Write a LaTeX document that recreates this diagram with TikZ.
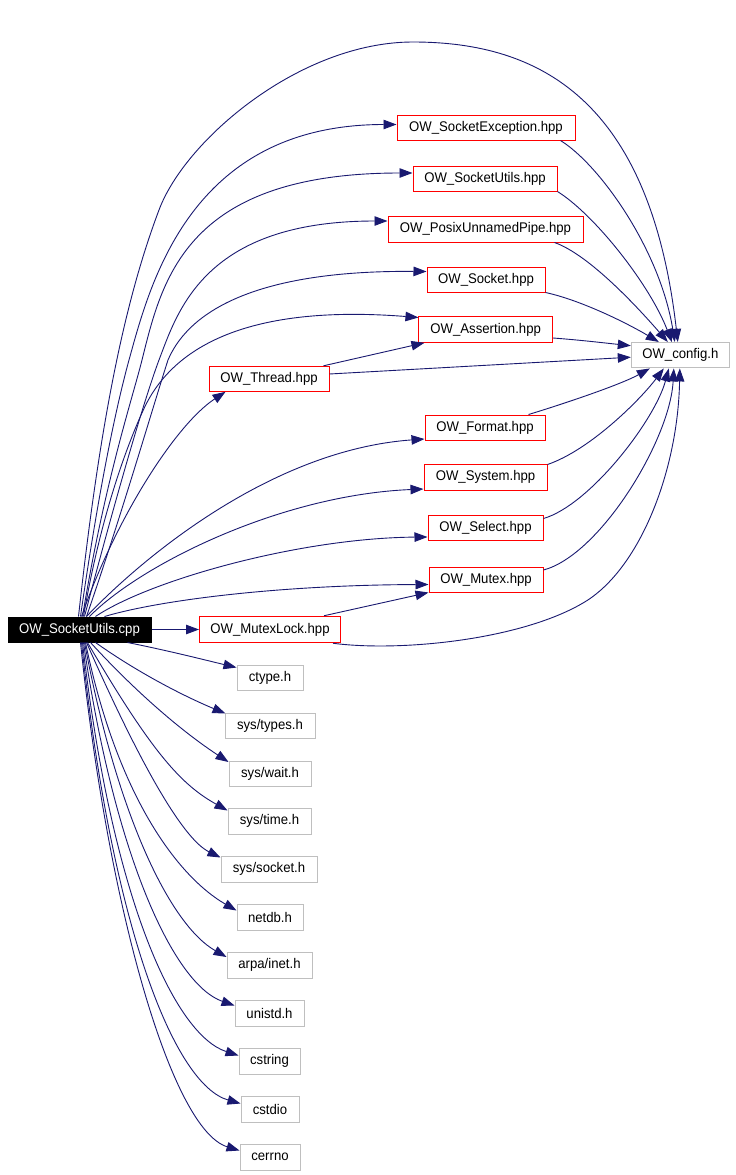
\documentclass[tikz,border=0pt]{standalone}
\usepackage{fontspec}
\newfontfamily\dfont[FakeStretch=0.94]{Liberation Sans}
\usetikzlibrary{arrows.meta,calc}
\definecolor{edgeblue}{RGB}{25,25,112}
\definecolor{boxgray}{RGB}{191,191,191}
\begin{document}
\begin{tikzpicture}[x=1pt,y=-1pt,
  box/.style={rectangle,draw,line width=1pt,inner sep=0pt,minimum height=25pt,font=\dfont\fontsize{14}{16}\selectfont,anchor=center},
  redbox/.style={box,draw=red},
  graybox/.style={box,draw=boxgray},
  rootbox/.style={box,draw=black,fill=black,text=white},
  edge/.style={draw=edgeblue,line width=0.9pt,-{Triangle[length=13pt,width=9.5pt]}}
]
\fill[white] (0,0) rectangle (736,1175);
\useasboundingbox (0,0) rectangle (736,1175);

% nodes
\node[rootbox,minimum width=143pt] (cpp) at (79.5,629.5) {OW\_SocketUtils.cpp};
\node[redbox,minimum width=141pt,minimum height=26.5pt] (mlock) at (270,629.5) {OW\_MutexLock.hpp};
\node[graybox,minimum width=66pt] (ctype) at (270,677.5) {ctype.h};
\node[graybox,minimum width=90pt] (types) at (270,725.5) {sys/types.h};
\node[graybox,minimum width=82pt] (wait) at (270,773.5) {sys/wait.h};
\node[graybox,minimum width=83pt,minimum height=26pt] (time) at (269.5,821) {sys/time.h};
\node[graybox,minimum width=96pt,minimum height=26pt] (socket) at (269,869) {sys/socket.h};
\node[graybox,minimum width=66pt,minimum height=26pt] (netdb) at (270,917) {netdb.h};
\node[graybox,minimum width=85pt,minimum height=26pt] (inet) at (269.5,965) {arpa/inet.h};
\node[graybox,minimum width=69pt,minimum height=26pt] (unistd) at (269.5,1013) {unistd.h};
\node[graybox,minimum width=61pt,minimum height=26pt] (cstring) at (269.5,1061) {cstring};
\node[graybox,minimum width=58pt,minimum height=26pt] (cstdio) at (270,1109) {cstdio};
\node[graybox,minimum width=60pt,minimum height=26pt] (cerrno) at (270,1157) {cerrno};
\node[redbox,minimum width=120pt] (thread) at (269,378.8) {OW\_Thread.hpp};
\node[redbox,minimum width=178pt] (sexc) at (486,127.5) {OW\_SocketException.hpp};
\node[redbox,minimum width=144pt] (sutil) at (485,178.5) {OW\_SocketUtils.hpp};
\node[redbox,minimum width=195pt,minimum height=26pt] (pipe) at (485.5,229) {OW\_PosixUnnamedPipe.hpp};
\node[redbox,minimum width=118pt] (sock) at (486,279.5) {OW\_Socket.hpp};
\node[redbox,minimum width=133.5pt,minimum height=25.8pt] (assert) at (485.7,329.4) {OW\_Assertion.hpp};
\node[graybox,minimum width=98pt,minimum height=25.5pt] (config) at (680.3,355.2) {OW\_config.h};
\node[redbox,minimum width=120pt] (format) at (485,427.5) {OW\_Format.hpp};
\node[redbox,minimum width=123pt,minimum height=26pt] (system) at (485.5,477) {OW\_System.hpp};
\node[redbox,minimum width=115pt] (select) at (485.5,527.5) {OW\_Select.hpp};
\node[redbox,minimum width=114pt] (mutex) at (486,579.5) {OW\_Mutex.hpp};

% edges from cpp upward
\draw[edge] ($(cpp.north west)+(71,0)$) .. controls (100,420) and (125,300) .. (159,210)
  .. controls (185,140) and (300,42) .. (413,42)
  .. controls (540,42) and (650,100) .. ($(config.north west)+(47,0)$);
\draw[edge] ($(cpp.north west)+(73,0)$) .. controls (100,480) and (118,400) .. (129,360)
  .. controls (150,284) and (190,124.5) .. ($(sexc.west)+(0,-3)$);
\draw[edge] ($(cpp.north west)+(75,0)$) .. controls (105,480) and (132,400) .. (142,360)
  .. controls (162,280) and (185,173) .. ($(sutil.west)+(0,-5.5)$);
\draw[edge] ($(cpp.north west)+(77,0)$) .. controls (115,500) and (144,400) .. (159,360)
  .. controls (178,310) and (205,221) .. ($(pipe.west)+(0,-8)$);
\draw[edge] ($(cpp.north west)+(79,0)$) .. controls (120,520) and (155,400) .. (168,360)
  .. controls (185,320) and (240,270) .. ($(sock.west)+(0,-8)$);
\draw[edge] ($(cpp.north west)+(76,0)$) .. controls (100,520) and (125,450) .. (143.3,410)
  .. controls (175,340) and (260,305) .. ($(assert.north west)+(0,1.5)$);
\draw[edge] ($(cpp.north west)+(74,0)$) .. controls (115,520) and (175,425) .. ($(thread.south west)+(17,0)$);
\draw[edge] ($(cpp.north west)+(79,0)$) .. controls (140,560) and (270,450) .. ($(format.south west)+(0,-1.5)$);
\draw[edge] ($(cpp.north west)+(82,0)$) .. controls (140,565) and (280,495) .. ($(system.south west)+(0,-1.5)$);
\draw[edge] ($(cpp.north west)+(88,0)$) .. controls (150,580) and (300,538) .. ($(select.south west)+(0,-3.5)$);
\draw[edge] ($(cpp.north west)+(97,0)$) .. controls (160,600) and (280,585) .. ($(mutex.west)+(0,5)$);
\draw[edge] (cpp.east) -- (mlock.west);

% edges from cpp downward
\draw[edge] ($(cpp.south west)+(120,0)$) .. controls (170,651) and (205,660) .. ($(ctype.north west)+(0,3)$);
\draw[edge] ($(cpp.south west)+(88,0)$) .. controls (137,672) and (183,695.8) .. ($(types.north west)+(1,1)$);
\draw[edge] ($(cpp.south west)+(83,0)$) .. controls (137,693.3) and (183,732.2) .. ($(wait.north west)+(0,1.5)$);
\draw[edge] ($(cpp.south west)+(80,0)$) .. controls (153,754.5) and (181.7,784.9) .. ($(time.north west)+(0,3)$);
\draw[edge] ($(cpp.south west)+(79,0)$) .. controls (145,775) and (185,840) .. ($(socket.north west)+(0,2)$);
\draw[edge] ($(cpp.south west)+(78,0)$) .. controls (118,800) and (180,878) .. ($(netdb.north west)+(0,7)$);
\draw[edge] ($(cpp.south west)+(77,0)$) .. controls (117,815) and (170,925) .. ($(inet.north west)+(0,5.5)$);
\draw[edge] ($(cpp.south west)+(76,0)$) .. controls (115,860) and (175,985) .. ($(unistd.north west)+(0,6)$);
\draw[edge] ($(cpp.south west)+(75,0)$) .. controls (112,900) and (175,1035) .. ($(cstring.north west)+(0,8)$);
\draw[edge] ($(cpp.south west)+(74,0)$) .. controls (112,930) and (175,1085) .. ($(cstdio.north west)+(0,8)$);
\draw[edge] ($(cpp.south west)+(73,0)$) .. controls (108,910) and (172,1130) .. ($(cerrno.north west)+(0,7)$);

% edges into OW_config.h
\draw[edge] ($(sexc.south east)+(-15,0)$) .. controls (600,165) and (660,250) .. ($(config.north west)+(44,0)$);
\draw[edge] (sutil.south east) .. controls (595,215) and (650,285) .. ($(config.north west)+(41,0)$);
\draw[edge] ($(pipe.south east)+(-29,0)$) .. controls (590,255) and (640,310) .. ($(config.north west)+(37,0)$);
\draw[edge] (sock.south east) .. controls (580,300) and (625,322) .. ($(config.north west)+(28,0)$);
\draw[edge] ($(assert.east)+(0,8.6)$) .. controls (580,340) and (605,343) .. ($(config.west)+(0,-9.5)$);
\draw[edge] ($(thread.east)+(0,-4.8)$) -- ($(config.west)+(0,2)$);
\draw[edge] ($(thread.north east)+(-6,0)$) -- ($(assert.south west)+(6,0)$);
\draw[edge] ($(format.north east)+(-17,0)$) .. controls (560,405) and (620,385) .. ($(config.south west)+(19,0)$);
\draw[edge] ($(system.north east)+(0,1)$) .. controls (590,450) and (640,400) .. ($(config.south west)+(33,0)$);
\draw[edge] ($(select.east)+(0,-9)$) .. controls (590,505) and (655,420) .. ($(config.south west)+(38,0)$);
\draw[edge] ($(mutex.east)+(0,-9.5)$) .. controls (600,555) and (670,440) .. ($(config.south west)+(43,0)$);
\draw[edge] ($(mlock.south east)+(-8,0)$) .. controls (400,652) and (520,640) .. (583,603)
  .. controls (640,570) and (678,470) .. ($(config.south west)+(49,0)$);
\draw[edge] ($(mlock.north east)+(-17,0)$) -- (mutex.south west);
\end{tikzpicture}
\end{document}
